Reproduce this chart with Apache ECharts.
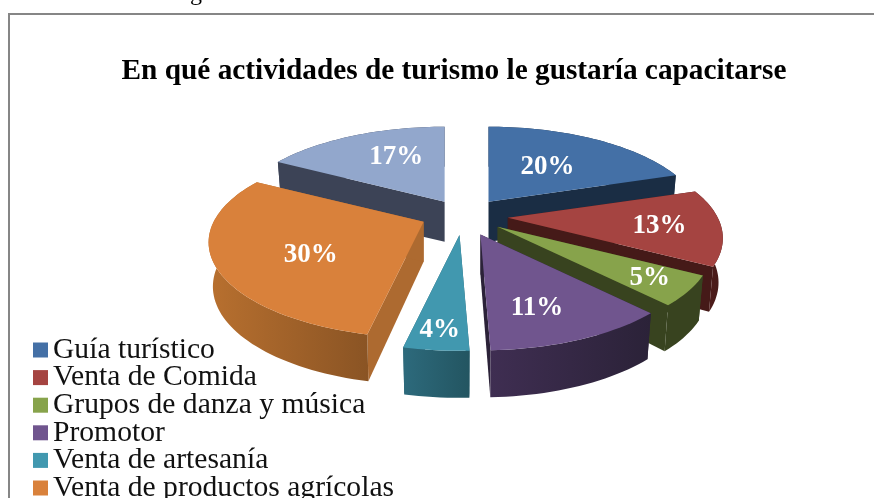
<!DOCTYPE html>
<html>
<head>
<meta charset="utf-8">
<style>
  html, body { margin: 0; padding: 0; background: #fff; }
  #chart { width: 874px; height: 498px; }
</style>
<script src="https://cdn.jsdelivr.net/npm/echarts@6/dist/echarts.min.js"></script>
</head>
<body>
<div id="chart"></div>
<script>
// the seventh legend row is cut off in the picture, its name is a guess
const categories = ['Guía turístico', 'Venta de Comida', 'Grupos de danza y música', 'Promotor', 'Venta de artesanía', 'Venta de productos agrícolas', 'Otros']
const values = [20, 13, 5, 11.4, 4, 29.6, 17]
const legendNames = categories.slice(0, 6)

const topColors = ['#4470a6', '#a54441', '#87a34b', '#70558e', '#4198af', '#d9813b', '#92a7cc']
const wallColors = ['#1a2d44', '#451a18', '#38431f', '#2b2238', '#2a6272', '#ad6a30', '#3c4356']
const rimStart = ['#1a2d44', '#5a1f1d', '#38431f', '#3f2e52', '#2d6a7c', '#b8702f', '#3c4356']
const rimEnd = ['#1a2d44', '#451a18', '#38431f', '#2b2238', '#235561', '#8a5424', '#3c4356']
const labelFractions = [0.57, 0.72, 0.78, 0.6, 0.8, 0.6, 0.58]
const labelShift = [[-1, 1], [-2, 2], [3, 1], [-4, 11], [-1, 3], [13, 8], [4, -6]]
// small per slice correction of the explosion
const sliceNudge = [[0, -1], [3, -2], [1, -3], [0, -1], [-2, -2], [-5, -4], [0, 0]]
// painter order, back to front
const drawOrder = [6, 0, 1, 5, 2, 3, 4]

// projection of the tilted pie
const centerX = 465
const centerY = 218
const radiusX = 210
const radiusY = 91
const perspective = 0.2147
const explodeX = 40
const explodeY = 19
const depthBack = 40
const depthFront = 47

const total = values.reduce((a, b) => a + b, 0)
const startAngles = []
let acc = 0
values.forEach(v => {
  startAngles.push(acc / total * 2 * Math.PI)
  acc += v
})

const project = (angle, frac) => {
  const den = 1 + perspective * Math.cos(angle)
  return [
    frac * radiusX * Math.sin(angle) / den,
    -frac * radiusY * Math.cos(angle) / den
  ]
}

const renderSlice = (idx) => () => {
  const a0 = startAngles[idx]
  const a1 = a0 + values[idx] / total * 2 * Math.PI
  const mid = (a0 + a1) / 2
  const ax = centerX + explodeX * Math.sin(mid) + sliceNudge[idx][0]
  const ay = centerY - explodeY * Math.cos(mid) + sliceNudge[idx][1]

  const topPt = (angle, frac) => {
    const p = project(angle, frac)
    return [ax + p[0], ay + p[1]]
  }
  // bottom face sits lower and a little closer to the centre
  const bottomPt = (angle, frac) => {
    const p = project(angle, frac)
    const depth = depthBack + (depthFront - depthBack) * frac * (1 - Math.cos(angle)) / 2
    return [ax + p[0] * 0.98, ay + p[1] + depth]
  }

  const arc = []
  const steps = Math.max(4, Math.ceil((a1 - a0) / 0.03))
  for (let i = 0; i <= steps; i++) arc.push(a0 + (a1 - a0) * i / steps)

  const wall = (angle) => ({
    type: 'polygon',
    shape: { points: [topPt(angle, 0), topPt(angle, 1), bottomPt(angle, 1), bottomPt(angle, 0)] },
    style: { fill: wallColors[idx] }
  })

  const rimPoints = arc.map(a => topPt(a, 1)).concat(arc.slice().reverse().map(a => bottomPt(a, 1)))
  const xs = rimPoints.map(p => p[0])
  const labelPos = topPt(mid, labelFractions[idx])

  return {
    type: 'group',
    children: [
      wall(a0),
      wall(a1),
      {
        type: 'polygon',
        shape: { points: rimPoints },
        style: {
          fill: new echarts.graphic.LinearGradient(Math.min(...xs), 0, Math.max(...xs), 0, [
            { offset: 0, color: rimStart[idx] },
            { offset: 1, color: rimEnd[idx] }
          ], true)
        }
      },
      {
        type: 'polygon',
        shape: { points: [[ax, ay]].concat(arc.map(a => topPt(a, 1))) },
        style: { fill: topColors[idx] }
      },
      {
        type: 'text',
        x: labelPos[0] + labelShift[idx][0],
        y: labelPos[1] + labelShift[idx][1],
        style: {
          text: Math.round(values[idx] / total * 100) + '%',
          fill: '#fff',
          font: 'bold 27px "Liberation Serif"',
          align: 'center',
          verticalAlign: 'middle'
        }
      }
    ]
  }
}

const chart = echarts.init(document.getElementById('chart'))

chart.setOption({
  animation: false,
  backgroundColor: '#fff',
  title: {
    text: 'En qué actividades de turismo le gustaría capacitarse',
    left: 449,
    top: 52,
    textAlign: 'center',
    textStyle: {
      fontFamily: 'Liberation Serif',
      fontSize: 29.3,
      fontWeight: 'bold',
      color: '#000'
    }
  },
  legend: {
    data: legendNames,
    orient: 'vertical',
    left: 33,
    top: 335,
    height: 200,
    padding: 0,
    itemWidth: 15,
    itemHeight: 15,
    itemGap: -2.4,
    icon: 'rect',
    selectedMode: false,
    textStyle: {
      fontFamily: 'Liberation Serif',
      fontSize: 29.6,
      color: '#111'
    }
  },
  graphic: [
    {
      type: 'rect',
      shape: { x: 9, y: 14, width: 900, height: 520 },
      style: { fill: 'none', stroke: '#868686', lineWidth: 2 },
      silent: true,
      z: -1
    },
    {
      // bottom of a text line cut off above the chart
      type: 'text',
      x: 196,
      y: -18,
      style: { text: 'g', fill: '#000', font: '24px "Liberation Serif"', align: 'center' },
      silent: true
    }
  ],
  series: drawOrder.map(idx => ({
    type: 'custom',
    name: categories[idx],
    coordinateSystem: 'none',
    color: topColors[idx],
    itemStyle: { color: topColors[idx] },
    data: [values[idx]],
    renderItem: renderSlice(idx),
    silent: true
  }))
})
</script>
</body>
</html>
